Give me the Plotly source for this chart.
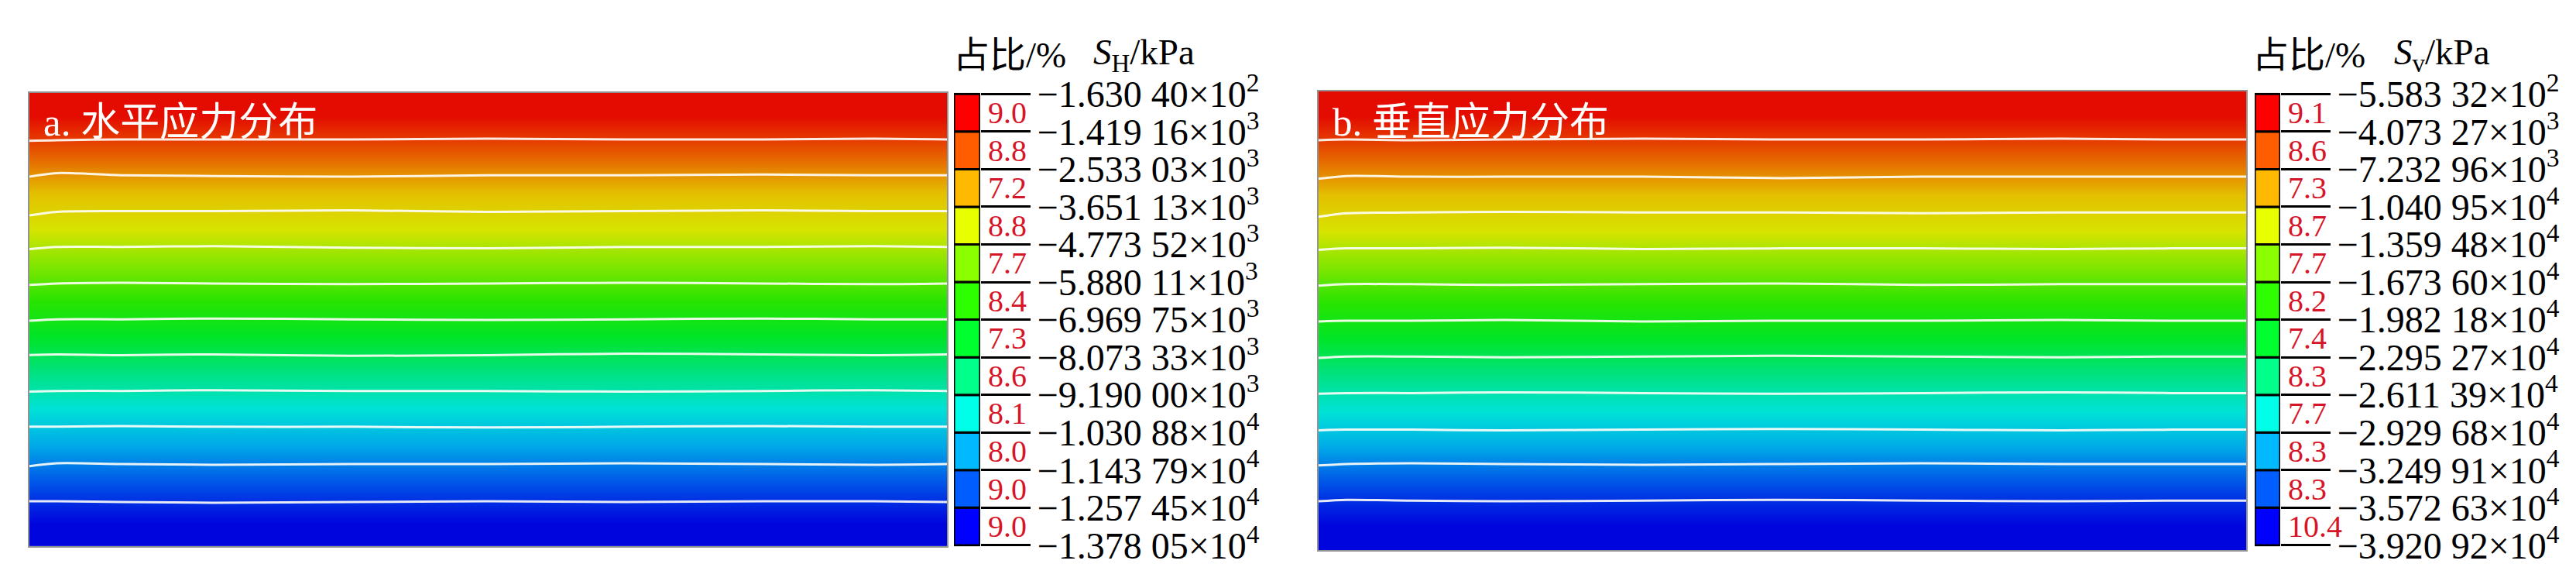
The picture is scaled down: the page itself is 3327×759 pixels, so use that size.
import plotly.graph_objects as go

W, H = 3327, 759

# ---------------- data ----------------
# contour levels (kPa), top -> bottom
sh_levels = [-163.040, -1419.16, -2533.03, -3651.13, -4773.52, -5880.11, -6969.75,
             -8073.33, -9190.00, -10308.8, -11437.9, -12574.5, -13780.5]
sv_levels = [-558.332, -4073.27, -7232.96, -10409.5, -13594.8, -16736.0, -19821.8,
             -22952.7, -26113.9, -29296.8, -32499.1, -35726.3, -39209.2]

# share of each band (%), top -> bottom
sh_percent = [9.0, 8.8, 7.2, 8.8, 7.7, 8.4, 7.3, 8.6, 8.1, 8.0, 9.0, 9.0]
sv_percent = [9.1, 8.6, 7.3, 8.7, 7.7, 8.2, 7.4, 8.3, 7.7, 8.3, 8.3, 10.4]

# isoline depths (field units, 0 = top) sampled across the width
iso_x = [0, 0.03, 0.1, 0.2, 0.35, 0.5, 0.65, 0.8, 0.92, 1.0]
sh_depth_total = 633
sh_isolines = [
    [67, 66, 65, 65, 65, 64, 65, 65, 64, 65],
    [117, 112, 115, 116, 117, 115, 115, 114, 115, 115],
    [171, 166, 165, 165, 164, 166, 165, 164, 165, 165],
    [218, 215, 215, 214, 216, 217, 215, 215, 214, 215],
    [268, 266, 265, 266, 267, 266, 265, 266, 267, 266],
    [318, 316, 316, 315, 316, 317, 316, 315, 316, 316],
    [366, 365, 366, 365, 367, 366, 364, 365, 366, 365],
    [417, 416, 416, 415, 416, 416, 417, 416, 415, 416],
    [466, 466, 465, 466, 466, 467, 466, 465, 466, 466],
    [521, 517, 518, 519, 518, 518, 517, 518, 519, 518],
    [570, 570, 571, 572, 571, 570, 571, 570, 570, 571],
]
sv_depth_total = 640
sv_isolines = [
    [68, 67, 68, 67, 66, 67, 67, 66, 67, 67],
    [122, 118, 119, 119, 119, 121, 119, 119, 119, 119],
    [175, 170, 169, 168, 169, 169, 170, 169, 169, 169],
    [221, 219, 219, 218, 220, 219, 219, 220, 219, 219],
    [271, 269, 269, 270, 269, 268, 270, 269, 269, 269],
    [321, 320, 320, 319, 321, 320, 320, 319, 320, 320],
    [372, 370, 370, 371, 370, 369, 370, 371, 370, 370],
    [422, 421, 421, 420, 421, 422, 421, 420, 421, 421],
    [473, 472, 472, 473, 472, 471, 472, 473, 472, 472],
    [522, 520, 519, 520, 521, 520, 519, 520, 520, 520],
    [572, 570, 571, 572, 571, 570, 571, 572, 571, 571],
]

# ---------------- styles ----------------
band_colors = ['rgb(255,0,0)', 'rgb(255,93,0)', 'rgb(255,185,0)', 'rgb(232,255,0)',
               'rgb(139,255,0)', 'rgb(46,255,0)', 'rgb(0,255,46)', 'rgb(0,255,139)',
               'rgb(0,255,232)', 'rgb(0,185,255)', 'rgb(0,93,255)', 'rgb(0,0,255)']
field_colors = ['rgb(228,12,0)', 'rgb(230,100,0)', 'rgb(228,192,0)', 'rgb(215,228,0)',
                'rgb(130,230,0)', 'rgb(40,228,0)', 'rgb(0,228,40)', 'rgb(0,226,130)',
                'rgb(0,226,215)', 'rgb(0,170,232)', 'rgb(0,85,232)', 'rgb(0,5,222)']
SERIF = "Liberation Serif, Times New Roman, Noto Sans CJK SC"
PCT_COLOR = 'rgb(214,22,40)'


def fmt_level(v):
    a = abs(v)
    e = 0
    while a >= 10:
        a /= 10
        e += 1
    s = f"{a:.5f}"
    return f"\u2212{s[:5]} {s[5:]}\u00d710<sup>{e}</sup>"


def colorscale_for(levels):
    zmin, zmax = levels[-1], levels[0]
    stops = [(0.0, field_colors[-1])]
    for k in range(len(levels) - 2, -1, -1):
        c = (levels[k] + levels[k + 1]) / 2
        stops.append(((c - zmin) / (zmax - zmin), field_colors[k]))
    stops.append((1.0, field_colors[0]))
    return [[t, c] for t, c in stops]


fig = go.Figure()

panels = [
    dict(levels=sh_levels, pct=sh_percent, iso=sh_isolines, depth=sh_depth_total,
         fx=(38, 1223), fy=(95, 728), bx=(1232, 1266), by=(95, 728),
         title="a. 水平应力分布", tx=54, h1x=1229, h2x=1410,
         unit="<i>S</i><sub>H</sub>/kPa"),
    dict(levels=sv_levels, pct=sv_percent, iso=sv_isolines, depth=sv_depth_total,
         fx=(1703, 2901), fy=(93, 733), bx=(2912, 2945), by=(95, 728),
         title="b. 垂直应力分布", tx=1719, h1x=2907, h2x=3090,
         unit="<i>S</i><sub>v</sub>/kPa"),
]

layout_axes = {}
annotations = []
for i, p in enumerate(panels):
    fa = 2 * i + 1      # field axis index
    la = 2 * i + 2      # legend axis index
    fxn, fyn = f"x{fa}", f"y{fa}"
    lxn, lyn = f"x{la}", f"y{la}"
    levels = p['levels']
    rows_y = [0] + [sum(r) / len(r) for r in p['iso']] + [p['depth']]
    fig.add_trace(go.Heatmap(
        x=[0, 1], y=rows_y, z=[[v, v] for v in levels],
        zmin=levels[-1], zmax=levels[0], colorscale=colorscale_for(levels),
        zsmooth='best', showscale=False, hoverinfo='skip', xaxis=fxn, yaxis=fyn))
    for line in p['iso']:
        fig.add_trace(go.Scatter(
            x=iso_x, y=line, mode='lines', hoverinfo='skip', showlegend=False,
            line=dict(color='rgba(255,255,250,0.9)', width=3, shape='spline', smoothing=0.8),
            xaxis=fxn, yaxis=fyn))
    # legend bar (bottom -> top)
    nb = len(p['pct'])
    fig.add_trace(go.Bar(
        x=[0.5] * nb, y=[1] * nb, base=list(range(nb)), width=1,
        marker=dict(color=band_colors[::-1], line=dict(color='black', width=3)),
        hoverinfo='skip', showlegend=False, xaxis=lxn, yaxis=lyn))

    key = lambda n: ('xaxis' if n[0] == 'x' else 'yaxis') + (n[1:] if n[1:] != '1' else '')
    layout_axes[key(fxn)] = dict(domain=[p['fx'][0] / W, p['fx'][1] / W], range=[0, 1],
                                 anchor=fyn, showgrid=False, zeroline=False, showticklabels=False,
                                 ticks='', showline=True, linecolor='rgba(120,120,120,0.8)',
                                 linewidth=2, mirror=True)
    layout_axes[key(fyn)] = dict(domain=[1 - p['fy'][1] / H, 1 - p['fy'][0] / H],
                                 range=[p['depth'], 0], anchor=fxn, showgrid=False,
                                 zeroline=False, showticklabels=False, ticks='',
                                 showline=True, linecolor='rgba(120,120,120,0.8)',
                                 linewidth=2, mirror=True)
    layout_axes[key(lxn)] = dict(domain=[p['bx'][0] / W, p['bx'][1] / W], range=[0, 1],
                                 anchor=lyn, showgrid=False, zeroline=False,
                                 showticklabels=False, ticks='', showline=False)
    layout_axes[key(lyn)] = dict(domain=[1 - p['by'][1] / H, 1 - p['by'][0] / H],
                                 range=[-0.03, nb + 0.03], anchor=lxn, side='right',
                                 showgrid=False, zeroline=False, showline=False,
                                 ticks='outside', ticklen=64, tickwidth=3, tickcolor='black',
                                 tickvals=list(range(nb + 1)),
                                 ticktext=[fmt_level(v) for v in levels[::-1]],
                                 tickfont=dict(family=SERIF, size=48, color='black'),
                                 ticklabelstandoff=-1)
    # percentages
    for k, v in enumerate(p['pct'][::-1]):
        annotations.append(dict(x=(p['bx'][1] + 8) / W, xref='paper', xanchor='left',
                                y=k + 0.5, yref=lyn, yanchor='middle', showarrow=False,
                                text=f"{v:.1f}",
                                font=dict(family=SERIF, size=40, color=PCT_COLOR)))
    # headers
    annotations.append(dict(x=p['h1x'] / W, xref='paper', xanchor='left', y=1 - 42 / H,
                            yref='paper', yanchor='middle', showarrow=False, text="占比/%",
                            font=dict(family=SERIF, size=47, color='black')))
    annotations.append(dict(x=p['h2x'] / W, xref='paper', xanchor='left', y=1 - 42 / H,
                            yref='paper', yanchor='middle', showarrow=False, text=p['unit'],
                            font=dict(family=SERIF, size=47, color='black')))
    # panel title
    annotations.append(dict(x=p['tx'] / W, xref='paper', xanchor='left', y=1 - 136 / H,
                            yref='paper', yanchor='middle', showarrow=False, text=p['title'],
                            font=dict(family=SERIF, size=51, color='white')))

fig.update_layout(width=W, height=H, margin=dict(l=0, r=0, t=0, b=0),
                  paper_bgcolor='white', plot_bgcolor='white', showlegend=False,
                  barmode='overlay', annotations=annotations, **layout_axes)

fig.write_html("out.html", config={'displayModeBar': False},
               post_script="document.body.style.margin='0px';")
